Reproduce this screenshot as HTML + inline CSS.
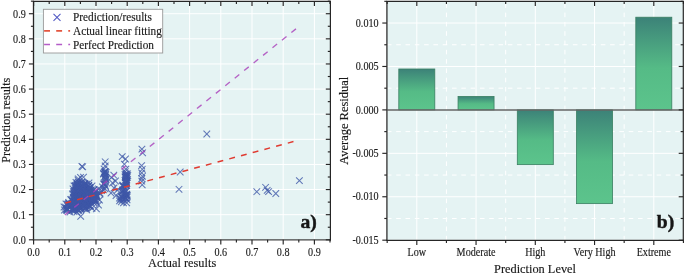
<!DOCTYPE html>
<html><head><meta charset="utf-8"><style>html,body{margin:0;padding:0;background:#fff;overflow:hidden}svg{display:block;will-change:transform}</style></head>
<body><svg width="685" height="274" viewBox="0 0 685 274" font-family="Liberation Serif, serif">
<rect width="685" height="274" fill="#fff"/>
<rect x="33.5" y="1.4" width="296.9" height="238.4" fill="#e5f3f3"/>
<line x1="64.80" y1="1.40" x2="64.80" y2="239.80" stroke="#fff" stroke-width="1" />
<line x1="33.50" y1="214.68" x2="330.40" y2="214.68" stroke="#fff" stroke-width="1" />
<line x1="96.00" y1="1.40" x2="96.00" y2="239.80" stroke="#fff" stroke-width="1" />
<line x1="33.50" y1="189.56" x2="330.40" y2="189.56" stroke="#fff" stroke-width="1" />
<line x1="127.20" y1="1.40" x2="127.20" y2="239.80" stroke="#fff" stroke-width="1" />
<line x1="33.50" y1="164.44" x2="330.40" y2="164.44" stroke="#fff" stroke-width="1" />
<line x1="158.40" y1="1.40" x2="158.40" y2="239.80" stroke="#fff" stroke-width="1" />
<line x1="33.50" y1="139.32" x2="330.40" y2="139.32" stroke="#fff" stroke-width="1" />
<line x1="189.60" y1="1.40" x2="189.60" y2="239.80" stroke="#fff" stroke-width="1" />
<line x1="33.50" y1="114.20" x2="330.40" y2="114.20" stroke="#fff" stroke-width="1" />
<line x1="220.80" y1="1.40" x2="220.80" y2="239.80" stroke="#fff" stroke-width="1" />
<line x1="33.50" y1="89.08" x2="330.40" y2="89.08" stroke="#fff" stroke-width="1" />
<line x1="252.00" y1="1.40" x2="252.00" y2="239.80" stroke="#fff" stroke-width="1" />
<line x1="33.50" y1="63.96" x2="330.40" y2="63.96" stroke="#fff" stroke-width="1" />
<line x1="283.20" y1="1.40" x2="283.20" y2="239.80" stroke="#fff" stroke-width="1" />
<line x1="33.50" y1="38.84" x2="330.40" y2="38.84" stroke="#fff" stroke-width="1" />
<line x1="314.40" y1="1.40" x2="314.40" y2="239.80" stroke="#fff" stroke-width="1" />
<line x1="33.50" y1="13.72" x2="330.40" y2="13.72" stroke="#fff" stroke-width="1" />
<g stroke="#3f58a8" stroke-opacity="0.8" stroke-width="1.05" fill="none"><path d="M296.10,177.30L302.70,183.90M296.10,183.90L302.70,177.30"/><path d="M253.50,188.40L260.10,195.00M253.50,195.00L260.10,188.40"/><path d="M262.30,184.00L268.90,190.60M262.30,190.60L268.90,184.00"/><path d="M263.90,187.00L270.50,193.60M263.90,193.60L270.50,187.00"/><path d="M265.30,188.30L271.90,194.90M265.30,194.90L271.90,188.30"/><path d="M272.50,190.20L279.10,196.80M272.50,196.80L279.10,190.20"/><path d="M203.50,130.70L210.10,137.30M203.50,137.30L210.10,130.70"/><path d="M176.90,168.70L183.50,175.30M176.90,175.30L183.50,168.70"/><path d="M175.70,186.00L182.30,192.60M175.70,192.60L182.30,186.00"/><path d="M138.60,145.80L145.20,152.40M138.60,152.40L145.20,145.80"/><path d="M139.30,149.50L145.90,156.10M139.30,156.10L145.90,149.50"/><path d="M138.30,162.30L144.90,168.90M138.30,168.90L144.90,162.30"/><path d="M139.00,166.00L145.60,172.60M139.00,172.60L145.60,166.00"/><path d="M138.40,169.60L145.00,176.20M138.40,176.20L145.00,169.60"/><path d="M139.10,173.00L145.70,179.60M139.10,179.60L145.70,173.00"/><path d="M138.50,175.30L145.10,181.90M138.50,181.90L145.10,175.30"/><path d="M138.50,177.90L145.10,184.50M138.50,184.50L145.10,177.90"/><path d="M138.90,181.50L145.50,188.10M138.90,188.10L145.50,181.50"/><path d="M78.60,163.10L85.20,169.70M78.60,169.70L85.20,163.10"/><path d="M79.40,163.50L86.00,170.10M79.40,170.10L86.00,163.50"/><path d="M77.40,213.10L84.00,219.70M77.40,219.70L84.00,213.10"/><path d="M118.90,153.30L125.50,159.90M118.90,159.90L125.50,153.30"/><path d="M122.20,155.70L128.80,162.30M122.20,162.30L128.80,155.70"/><path d="M121.10,160.90L127.70,167.50M121.10,167.50L127.70,160.90"/><path d="M101.90,158.50L108.50,165.10M101.90,165.10L108.50,158.50"/><path d="M101.90,162.70L108.50,169.30M101.90,169.30L108.50,162.70"/><path d="M81.95,199.82L88.55,206.42M81.95,206.42L88.55,199.82"/><path d="M92.10,196.99L98.70,203.59M92.10,203.59L98.70,196.99"/><path d="M77.07,184.72L83.67,191.32M77.07,191.32L83.67,184.72"/><path d="M79.44,194.71L86.04,201.31M79.44,201.31L86.04,194.71"/><path d="M71.06,205.15L77.66,211.75M71.06,211.75L77.66,205.15"/><path d="M81.77,181.06L88.37,187.66M81.77,187.66L88.37,181.06"/><path d="M62.26,203.78L68.86,210.38M62.26,210.38L68.86,203.78"/><path d="M71.37,206.53L77.97,213.13M71.37,213.13L77.97,206.53"/><path d="M79.29,197.87L85.89,204.47M79.29,204.47L85.89,197.87"/><path d="M68.69,205.90L75.29,212.50M68.69,212.50L75.29,205.90"/><path d="M90.53,186.31L97.13,192.91M90.53,192.91L97.13,186.31"/><path d="M73.65,182.26L80.25,188.86M73.65,188.86L80.25,182.26"/><path d="M71.75,195.59L78.35,202.19M71.75,202.19L78.35,195.59"/><path d="M72.91,186.65L79.51,193.25M72.91,193.25L79.51,186.65"/><path d="M88.15,191.86L94.75,198.46M88.15,198.46L94.75,191.86"/><path d="M72.21,191.88L78.81,198.48M72.21,198.48L78.81,191.88"/><path d="M85.97,202.97L92.57,209.57M85.97,209.57L92.57,202.97"/><path d="M73.81,194.84L80.41,201.44M73.81,201.44L80.41,194.84"/><path d="M67.94,206.33L74.54,212.93M67.94,212.93L74.54,206.33"/><path d="M68.43,200.25L75.03,206.85M68.43,206.85L75.03,200.25"/><path d="M73.12,188.02L79.72,194.62M73.12,194.62L79.72,188.02"/><path d="M78.83,200.86L85.43,207.46M78.83,207.46L85.43,200.86"/><path d="M65.63,200.03L72.23,206.63M65.63,206.63L72.23,200.03"/><path d="M63.36,206.05L69.96,212.65M63.36,212.65L69.96,206.05"/><path d="M81.56,205.20L88.16,211.80M81.56,211.80L88.16,205.20"/><path d="M72.98,205.39L79.58,211.99M72.98,211.99L79.58,205.39"/><path d="M79.48,186.73L86.08,193.33M79.48,193.33L86.08,186.73"/><path d="M72.24,182.61L78.84,189.21M72.24,189.21L78.84,182.61"/><path d="M93.48,193.47L100.08,200.07M93.48,200.07L100.08,193.47"/><path d="M75.07,184.44L81.67,191.04M75.07,191.04L81.67,184.44"/><path d="M81.03,202.40L87.63,209.00M81.03,209.00L87.63,202.40"/><path d="M76.64,190.06L83.24,196.66M76.64,196.66L83.24,190.06"/><path d="M63.97,205.14L70.57,211.74M63.97,211.74L70.57,205.14"/><path d="M82.18,201.23L88.78,207.83M82.18,207.83L88.78,201.23"/><path d="M66.93,202.96L73.53,209.56M66.93,209.56L73.53,202.96"/><path d="M71.55,191.02L78.15,197.62M71.55,197.62L78.15,191.02"/><path d="M93.14,191.03L99.74,197.63M93.14,197.63L99.74,191.03"/><path d="M77.67,199.45L84.27,206.05M77.67,206.05L84.27,199.45"/><path d="M77.39,186.08L83.99,192.68M77.39,192.68L83.99,186.08"/><path d="M75.00,181.67L81.60,188.27M75.00,188.27L81.60,181.67"/><path d="M92.63,196.32L99.23,202.92M92.63,202.92L99.23,196.32"/><path d="M78.03,187.52L84.63,194.12M78.03,194.12L84.63,187.52"/><path d="M73.65,201.17L80.25,207.77M73.65,207.77L80.25,201.17"/><path d="M86.76,198.39L93.36,204.99M86.76,204.99L93.36,198.39"/><path d="M83.25,200.37L89.85,206.97M83.25,206.97L89.85,200.37"/><path d="M73.72,198.69L80.32,205.29M73.72,205.29L80.32,198.69"/><path d="M71.10,192.01L77.70,198.61M71.10,198.61L77.70,192.01"/><path d="M86.60,198.27L93.20,204.87M86.60,204.87L93.20,198.27"/><path d="M71.52,206.04L78.12,212.64M71.52,212.64L78.12,206.04"/><path d="M82.80,194.91L89.40,201.51M82.80,201.51L89.40,194.91"/><path d="M70.15,197.69L76.75,204.29M70.15,204.29L76.75,197.69"/><path d="M76.88,202.11L83.48,208.71M76.88,208.71L83.48,202.11"/><path d="M82.72,201.53L89.32,208.13M82.72,208.13L89.32,201.53"/><path d="M73.23,196.84L79.83,203.44M73.23,203.44L79.83,196.84"/><path d="M85.59,202.46L92.19,209.06M85.59,209.06L92.19,202.46"/><path d="M73.30,202.91L79.90,209.51M73.30,209.51L79.90,202.91"/><path d="M89.78,198.19L96.38,204.79M89.78,204.79L96.38,198.19"/><path d="M78.63,193.34L85.23,199.94M78.63,199.94L85.23,193.34"/><path d="M67.47,202.72L74.07,209.32M67.47,209.32L74.07,202.72"/><path d="M91.91,191.76L98.51,198.36M91.91,198.36L98.51,191.76"/><path d="M84.12,199.15L90.72,205.75M84.12,205.75L90.72,199.15"/><path d="M85.35,182.44L91.95,189.04M85.35,189.04L91.95,182.44"/><path d="M86.94,194.92L93.54,201.52M86.94,201.52L93.54,194.92"/><path d="M83.30,190.03L89.90,196.63M83.30,196.63L89.90,190.03"/><path d="M81.97,200.83L88.57,207.43M81.97,207.43L88.57,200.83"/><path d="M82.39,199.17L88.99,205.77M82.39,205.77L88.99,199.17"/><path d="M76.18,197.03L82.78,203.63M76.18,203.63L82.78,197.03"/><path d="M69.14,198.12L75.74,204.72M69.14,204.72L75.74,198.12"/><path d="M77.15,184.10L83.75,190.70M77.15,190.70L83.75,184.10"/><path d="M72.26,182.74L78.86,189.34M72.26,189.34L78.86,182.74"/><path d="M76.95,188.80L83.55,195.40M76.95,195.40L83.55,188.80"/><path d="M81.59,195.20L88.19,201.80M81.59,201.80L88.19,195.20"/><path d="M69.74,204.75L76.34,211.35M69.74,211.35L76.34,204.75"/><path d="M71.03,189.71L77.63,196.31M71.03,196.31L77.63,189.71"/><path d="M65.85,202.56L72.45,209.16M65.85,209.16L72.45,202.56"/><path d="M81.65,180.09L88.25,186.69M81.65,186.69L88.25,180.09"/><path d="M79.48,187.55L86.08,194.15M79.48,194.15L86.08,187.55"/><path d="M88.15,189.98L94.75,196.58M88.15,196.58L94.75,189.98"/><path d="M87.97,196.79L94.57,203.39M87.97,203.39L94.57,196.79"/><path d="M73.91,181.53L80.51,188.13M73.91,188.13L80.51,181.53"/><path d="M81.09,194.40L87.69,201.00M81.09,201.00L87.69,194.40"/><path d="M81.49,187.91L88.09,194.51M81.49,194.51L88.09,187.91"/><path d="M81.70,181.49L88.30,188.09M81.70,188.09L88.30,181.49"/><path d="M82.15,204.38L88.75,210.98M82.15,210.98L88.75,204.38"/><path d="M74.11,190.37L80.71,196.97M74.11,196.97L80.71,190.37"/><path d="M81.09,185.12L87.69,191.72M81.09,191.72L87.69,185.12"/><path d="M93.30,192.34L99.90,198.94M93.30,198.94L99.90,192.34"/><path d="M75.37,186.93L81.97,193.53M75.37,193.53L81.97,186.93"/><path d="M93.40,192.20L100.00,198.80M93.40,198.80L100.00,192.20"/><path d="M71.28,191.75L77.88,198.35M71.28,198.35L77.88,191.75"/><path d="M76.26,186.14L82.86,192.74M76.26,192.74L82.86,186.14"/><path d="M86.98,202.42L93.58,209.02M86.98,209.02L93.58,202.42"/><path d="M70.88,205.73L77.48,212.33M70.88,212.33L77.48,205.73"/><path d="M86.99,184.69L93.59,191.29M86.99,191.29L93.59,184.69"/><path d="M81.47,191.68L88.07,198.28M81.47,198.28L88.07,191.68"/><path d="M82.64,195.62L89.24,202.22M82.64,202.22L89.24,195.62"/><path d="M86.30,186.37L92.90,192.97M86.30,192.97L92.90,186.37"/><path d="M79.11,187.45L85.71,194.05M79.11,194.05L85.71,187.45"/><path d="M71.61,193.36L78.21,199.96M71.61,199.96L78.21,193.36"/><path d="M76.92,188.21L83.52,194.81M76.92,194.81L83.52,188.21"/><path d="M85.82,195.22L92.42,201.82M85.82,201.82L92.42,195.22"/><path d="M76.64,205.16L83.24,211.76M76.64,211.76L83.24,205.16"/><path d="M90.35,193.84L96.95,200.44M90.35,200.44L96.95,193.84"/><path d="M75.76,194.76L82.36,201.36M75.76,201.36L82.36,194.76"/><path d="M84.65,196.48L91.25,203.08M84.65,203.08L91.25,196.48"/><path d="M77.48,205.01L84.08,211.61M77.48,211.61L84.08,205.01"/><path d="M74.42,189.15L81.02,195.75M74.42,195.75L81.02,189.15"/><path d="M71.60,202.52L78.20,209.12M71.60,209.12L78.20,202.52"/><path d="M64.29,202.71L70.89,209.31M64.29,209.31L70.89,202.71"/><path d="M84.22,190.40L90.82,197.00M84.22,197.00L90.82,190.40"/><path d="M71.28,201.01L77.88,207.61M71.28,207.61L77.88,201.01"/><path d="M77.37,193.95L83.97,200.55M77.37,200.55L83.97,193.95"/><path d="M77.98,187.29L84.58,193.89M77.98,193.89L84.58,187.29"/><path d="M69.49,202.20L76.09,208.80M69.49,208.80L76.09,202.20"/><path d="M87.30,197.44L93.90,204.04M87.30,204.04L93.90,197.44"/><path d="M71.47,205.20L78.07,211.80M71.47,211.80L78.07,205.20"/><path d="M75.32,182.12L81.92,188.72M75.32,188.72L81.92,182.12"/><path d="M80.44,199.84L87.04,206.44M80.44,206.44L87.04,199.84"/><path d="M75.88,186.79L82.48,193.39M75.88,193.39L82.48,186.79"/><path d="M81.23,192.13L87.83,198.73M81.23,198.73L87.83,192.13"/><path d="M91.95,188.61L98.55,195.21M91.95,195.21L98.55,188.61"/><path d="M78.24,204.97L84.84,211.57M78.24,211.57L84.84,204.97"/><path d="M79.79,196.14L86.39,202.74M79.79,202.74L86.39,196.14"/><path d="M70.54,194.03L77.14,200.63M70.54,200.63L77.14,194.03"/><path d="M70.26,200.09L76.86,206.69M70.26,206.69L76.86,200.09"/><path d="M78.59,181.28L85.19,187.88M78.59,187.88L85.19,181.28"/><path d="M85.56,182.67L92.16,189.27M85.56,189.27L92.16,182.67"/><path d="M84.81,197.18L91.41,203.78M84.81,203.78L91.41,197.18"/><path d="M81.03,184.48L87.63,191.08M81.03,191.08L87.63,184.48"/><path d="M90.00,191.85L96.60,198.45M90.00,198.45L96.60,191.85"/><path d="M72.45,201.49L79.05,208.09M72.45,208.09L79.05,201.49"/><path d="M92.38,197.97L98.98,204.57M92.38,204.57L98.98,197.97"/><path d="M82.01,188.01L88.61,194.61M82.01,194.61L88.61,188.01"/><path d="M81.66,187.83L88.26,194.43M81.66,194.43L88.26,187.83"/><path d="M74.43,181.36L81.03,187.96M74.43,187.96L81.03,181.36"/><path d="M88.55,196.96L95.15,203.56M88.55,203.56L95.15,196.96"/><path d="M87.70,190.42L94.30,197.02M87.70,197.02L94.30,190.42"/><path d="M89.19,192.98L95.79,199.58M89.19,199.58L95.79,192.98"/><path d="M80.99,194.68L87.59,201.28M80.99,201.28L87.59,194.68"/><path d="M85.66,189.26L92.26,195.86M85.66,195.86L92.26,189.26"/><path d="M90.39,191.87L96.99,198.47M90.39,198.47L96.99,191.87"/><path d="M77.10,204.34L83.70,210.94M77.10,210.94L83.70,204.34"/><path d="M81.84,190.27L88.44,196.87M81.84,196.87L88.44,190.27"/><path d="M76.96,180.24L83.56,186.84M76.96,186.84L83.56,180.24"/><path d="M74.08,188.96L80.68,195.56M74.08,195.56L80.68,188.96"/><path d="M63.22,205.40L69.82,212.00M63.22,212.00L69.82,205.40"/><path d="M73.90,205.81L80.50,212.41M73.90,212.41L80.50,205.81"/><path d="M84.00,197.75L90.60,204.35M84.00,204.35L90.60,197.75"/><path d="M77.15,206.03L83.75,212.63M77.15,212.63L83.75,206.03"/><path d="M71.43,197.77L78.03,204.37M71.43,204.37L78.03,197.77"/><path d="M85.32,182.18L91.92,188.78M85.32,188.78L91.92,182.18"/><path d="M74.91,206.89L81.51,213.49M74.91,213.49L81.51,206.89"/><path d="M73.75,186.71L80.35,193.31M73.75,193.31L80.35,186.71"/><path d="M77.04,185.84L83.64,192.44M77.04,192.44L83.64,185.84"/><path d="M85.42,199.10L92.02,205.70M85.42,205.70L92.02,199.10"/><path d="M82.67,190.33L89.27,196.93M82.67,196.93L89.27,190.33"/><path d="M64.13,200.97L70.73,207.57M64.13,207.57L70.73,200.97"/><path d="M75.20,178.57L81.80,185.17M75.20,185.17L81.80,178.57"/><path d="M78.65,187.88L85.25,194.48M78.65,194.48L85.25,187.88"/><path d="M90.69,192.18L97.29,198.78M90.69,198.78L97.29,192.18"/><path d="M74.80,179.03L81.40,185.63M74.80,185.63L81.40,179.03"/><path d="M70.30,189.63L76.90,196.23M70.30,196.23L76.90,189.63"/><path d="M63.39,206.83L69.99,213.43M63.39,213.43L69.99,206.83"/><path d="M74.95,193.40L81.55,200.00M74.95,200.00L81.55,193.40"/><path d="M91.41,195.45L98.01,202.05M91.41,202.05L98.01,195.45"/><path d="M77.62,194.63L84.22,201.23M77.62,201.23L84.22,194.63"/><path d="M74.14,196.27L80.74,202.87M74.14,202.87L80.74,196.27"/><path d="M71.95,190.90L78.55,197.50M71.95,197.50L78.55,190.90"/><path d="M64.98,200.76L71.58,207.36M64.98,207.36L71.58,200.76"/><path d="M88.18,186.74L94.78,193.34M88.18,193.34L94.78,186.74"/><path d="M75.79,194.80L82.39,201.40M75.79,201.40L82.39,194.80"/><path d="M74.05,180.21L80.65,186.81M74.05,186.81L80.65,180.21"/><path d="M75.53,186.77L82.13,193.37M75.53,193.37L82.13,186.77"/><path d="M86.05,194.16L92.65,200.76M86.05,200.76L92.65,194.16"/><path d="M90.61,197.15L97.21,203.75M90.61,203.75L97.21,197.15"/><path d="M86.28,194.73L92.88,201.33M86.28,201.33L92.88,194.73"/><path d="M76.22,202.11L82.82,208.71M76.22,208.71L82.82,202.11"/><path d="M85.28,198.59L91.88,205.19M85.28,205.19L91.88,198.59"/><path d="M70.69,201.97L77.29,208.57M70.69,208.57L77.29,201.97"/><path d="M74.32,181.17L80.92,187.77M74.32,187.77L80.92,181.17"/><path d="M70.52,197.81L77.12,204.41M70.52,204.41L77.12,197.81"/><path d="M86.41,194.20L93.01,200.80M86.41,200.80L93.01,194.20"/><path d="M81.60,184.25L88.20,190.85M81.60,190.85L88.20,184.25"/><path d="M75.80,188.25L82.40,194.85M75.80,194.85L82.40,188.25"/><path d="M80.73,202.42L87.33,209.02M80.73,209.02L87.33,202.42"/><path d="M79.01,182.42L85.61,189.02M79.01,189.02L85.61,182.42"/><path d="M84.69,190.81L91.29,197.41M84.69,197.41L91.29,190.81"/><path d="M91.21,191.26L97.81,197.86M91.21,197.86L97.81,191.26"/><path d="M75.96,190.66L82.56,197.26M75.96,197.26L82.56,190.66"/><path d="M81.09,180.36L87.69,186.96M81.09,186.96L87.69,180.36"/><path d="M88.01,189.99L94.61,196.59M88.01,196.59L94.61,189.99"/><path d="M63.86,207.03L70.46,213.63M63.86,213.63L70.46,207.03"/><path d="M77.48,204.09L84.08,210.69M77.48,210.69L84.08,204.09"/><path d="M74.65,183.78L81.25,190.38M74.65,190.38L81.25,183.78"/><path d="M80.03,188.09L86.63,194.69M80.03,194.69L86.63,188.09"/><path d="M86.01,184.57L92.61,191.17M86.01,191.17L92.61,184.57"/><path d="M73.35,184.77L79.95,191.37M73.35,191.37L79.95,184.77"/><path d="M89.14,196.05L95.74,202.65M89.14,202.65L95.74,196.05"/><path d="M74.91,181.56L81.51,188.16M74.91,188.16L81.51,181.56"/><path d="M88.56,192.15L95.16,198.75M88.56,198.75L95.16,192.15"/><path d="M65.33,199.09L71.93,205.69M65.33,205.69L71.93,199.09"/><path d="M87.47,187.08L94.07,193.68M87.47,193.68L94.07,187.08"/><path d="M83.85,203.53L90.45,210.13M83.85,210.13L90.45,203.53"/><path d="M81.95,201.61L88.55,208.21M81.95,208.21L88.55,201.61"/><path d="M78.42,195.09L85.02,201.69M78.42,201.69L85.02,195.09"/><path d="M72.09,188.88L78.69,195.48M72.09,195.48L78.69,188.88"/><path d="M77.29,198.65L83.89,205.25M77.29,205.25L83.89,198.65"/><path d="M74.85,207.16L81.45,213.76M74.85,213.76L81.45,207.16"/><path d="M84.16,197.64L90.76,204.24M84.16,204.24L90.76,197.64"/><path d="M79.21,201.56L85.81,208.16M79.21,208.16L85.81,201.56"/><path d="M73.70,195.30L80.30,201.90M73.70,201.90L80.30,195.30"/><path d="M83.74,193.13L90.34,199.73M83.74,199.73L90.34,193.13"/><path d="M80.60,200.37L87.20,206.97M80.60,206.97L87.20,200.37"/><path d="M84.85,186.56L91.45,193.16M84.85,193.16L91.45,186.56"/><path d="M86.08,197.63L92.68,204.23M86.08,204.23L92.68,197.63"/><path d="M84.00,202.77L90.60,209.37M84.00,209.37L90.60,202.77"/><path d="M85.61,195.83L92.21,202.43M85.61,202.43L92.21,195.83"/><path d="M93.10,193.79L99.70,200.39M93.10,200.39L99.70,193.79"/><path d="M74.57,182.63L81.17,189.23M74.57,189.23L81.17,182.63"/><path d="M82.90,204.64L89.50,211.24M82.90,211.24L89.50,204.64"/><path d="M91.05,195.91L97.65,202.51M91.05,202.51L97.65,195.91"/><path d="M74.46,180.52L81.06,187.12M74.46,187.12L81.06,180.52"/><path d="M84.03,194.08L90.63,200.68M84.03,200.68L90.63,194.08"/><path d="M84.87,188.61L91.47,195.21M84.87,195.21L91.47,188.61"/><path d="M71.89,185.36L78.49,191.96M71.89,191.96L78.49,185.36"/><path d="M81.92,204.57L88.52,211.17M81.92,211.17L88.52,204.57"/><path d="M67.51,196.50L74.11,203.10M67.51,203.10L74.11,196.50"/><path d="M86.50,184.05L93.10,190.65M86.50,190.65L93.10,184.05"/><path d="M85.28,189.91L91.88,196.51M85.28,196.51L91.88,189.91"/><path d="M75.68,193.33L82.28,199.93M75.68,199.93L82.28,193.33"/><path d="M90.88,186.42L97.48,193.02M90.88,193.02L97.48,186.42"/><path d="M71.10,195.66L77.70,202.26M71.10,202.26L77.70,195.66"/><path d="M80.03,195.61L86.63,202.21M80.03,202.21L86.63,195.61"/><path d="M81.05,196.91L87.65,203.51M81.05,203.51L87.65,196.91"/><path d="M84.08,199.43L90.68,206.03M84.08,206.03L90.68,199.43"/><path d="M72.29,203.14L78.89,209.74M72.29,209.74L78.89,203.14"/><path d="M69.46,198.45L76.06,205.05M69.46,205.05L76.06,198.45"/><path d="M88.85,191.74L95.45,198.34M88.85,198.34L95.45,191.74"/><path d="M65.53,200.32L72.13,206.92M65.53,206.92L72.13,200.32"/><path d="M85.54,202.10L92.14,208.70M85.54,208.70L92.14,202.10"/><path d="M87.68,198.95L94.28,205.55M87.68,205.55L94.28,198.95"/><path d="M74.07,191.19L80.67,197.79M74.07,197.79L80.67,191.19"/><path d="M83.77,199.86L90.37,206.46M83.77,206.46L90.37,199.86"/><path d="M79.43,188.64L86.03,195.24M79.43,195.24L86.03,188.64"/><path d="M74.07,198.05L80.67,204.65M74.07,204.65L80.67,198.05"/><path d="M86.29,199.20L92.89,205.80M86.29,205.80L92.89,199.20"/><path d="M77.38,188.00L83.98,194.60M77.38,194.60L83.98,188.00"/><path d="M74.31,186.06L80.91,192.66M74.31,192.66L80.91,186.06"/><path d="M78.01,198.45L84.61,205.05M78.01,205.05L84.61,198.45"/><path d="M87.21,194.76L93.81,201.36M87.21,201.36L93.81,194.76"/><path d="M71.58,187.48L78.18,194.08M71.58,194.08L78.18,187.48"/><path d="M89.08,193.04L95.68,199.64M89.08,199.64L95.68,193.04"/><path d="M69.74,197.52L76.34,204.12M69.74,204.12L76.34,197.52"/><path d="M93.41,193.71L100.01,200.31M93.41,200.31L100.01,193.71"/><path d="M74.45,205.68L81.05,212.28M74.45,212.28L81.05,205.68"/><path d="M86.48,188.21L93.08,194.81M86.48,194.81L93.08,188.21"/><path d="M76.73,188.88L83.33,195.48M76.73,195.48L83.33,188.88"/><path d="M78.58,178.82L85.18,185.42M78.58,185.42L85.18,178.82"/><path d="M69.13,206.92L75.73,213.52M69.13,213.52L75.73,206.92"/><path d="M76.23,191.59L82.83,198.19M76.23,198.19L82.83,191.59"/><path d="M92.47,198.16L99.07,204.76M92.47,204.76L99.07,198.16"/><path d="M78.30,178.82L84.90,185.42M78.30,185.42L84.90,178.82"/><path d="M74.65,200.94L81.25,207.54M74.65,207.54L81.25,200.94"/><path d="M75.98,195.30L82.58,201.90M75.98,201.90L82.58,195.30"/><path d="M90.80,196.88L97.40,203.48M90.80,203.48L97.40,196.88"/><path d="M75.30,203.86L81.90,210.46M75.30,210.46L81.90,203.86"/><path d="M66.90,201.02L73.50,207.62M66.90,207.62L73.50,201.02"/><path d="M75.58,206.85L82.18,213.45M75.58,213.45L82.18,206.85"/><path d="M75.56,185.46L82.16,192.06M75.56,192.06L82.16,185.46"/><path d="M77.09,185.94L83.69,192.54M77.09,192.54L83.69,185.94"/><path d="M83.33,180.96L89.93,187.56M83.33,187.56L89.93,180.96"/><path d="M81.19,181.36L87.79,187.96M81.19,187.96L87.79,181.36"/><path d="M69.70,205.27L76.30,211.87M69.70,211.87L76.30,205.27"/><path d="M70.65,200.19L77.25,206.79M70.65,206.79L77.25,200.19"/><path d="M74.02,200.84L80.62,207.44M74.02,207.44L80.62,200.84"/><path d="M82.60,188.64L89.20,195.24M82.60,195.24L89.20,188.64"/><path d="M73.89,191.77L80.49,198.37M73.89,198.37L80.49,191.77"/><path d="M69.84,194.54L76.44,201.14M69.84,201.14L76.44,194.54"/><path d="M70.54,193.83L77.14,200.43M70.54,200.43L77.14,193.83"/><path d="M77.45,198.73L84.05,205.33M77.45,205.33L84.05,198.73"/><path d="M75.48,192.58L82.08,199.18M75.48,199.18L82.08,192.58"/><path d="M81.55,201.38L88.15,207.98M81.55,207.98L88.15,201.38"/><path d="M71.64,190.93L78.24,197.53M71.64,197.53L78.24,190.93"/><path d="M73.94,193.37L80.54,199.97M73.94,199.97L80.54,193.37"/><path d="M76.42,199.65L83.02,206.25M76.42,206.25L83.02,199.65"/><path d="M78.96,189.06L85.56,195.66M78.96,195.66L85.56,189.06"/><path d="M79.69,202.50L86.29,209.10M79.69,209.10L86.29,202.50"/><path d="M77.87,194.46L84.47,201.06M77.87,201.06L84.47,194.46"/><path d="M73.04,181.59L79.64,188.19M73.04,188.19L79.64,181.59"/><path d="M70.94,201.10L77.54,207.70M70.94,207.70L77.54,201.10"/><path d="M85.69,185.19L92.29,191.79M85.69,191.79L92.29,185.19"/><path d="M88.48,196.28L95.08,202.88M88.48,202.88L95.08,196.28"/><path d="M74.52,196.38L81.12,202.98M74.52,202.98L81.12,196.38"/><path d="M89.99,190.58L96.59,197.18M89.99,197.18L96.59,190.58"/><path d="M85.65,194.32L92.25,200.92M85.65,200.92L92.25,194.32"/><path d="M88.32,192.28L94.92,198.88M88.32,198.88L94.92,192.28"/><path d="M80.87,180.78L87.47,187.38M80.87,187.38L87.47,180.78"/><path d="M85.06,195.85L91.66,202.45M85.06,202.45L91.66,195.85"/><path d="M81.60,183.96L88.20,190.56M81.60,190.56L88.20,183.96"/><path d="M76.79,196.99L83.39,203.59M76.79,203.59L83.39,196.99"/><path d="M90.48,199.19L97.08,205.79M90.48,205.79L97.08,199.19"/><path d="M86.12,185.09L92.72,191.69M86.12,191.69L92.72,185.09"/><path d="M86.24,192.93L92.84,199.53M86.24,199.53L92.84,192.93"/><path d="M90.79,191.40L97.39,198.00M90.79,198.00L97.39,191.40"/><path d="M70.55,206.08L77.15,212.68M70.55,212.68L77.15,206.08"/><path d="M75.68,196.16L82.28,202.76M75.68,202.76L82.28,196.16"/><path d="M82.82,182.53L89.42,189.13M82.82,189.13L89.42,182.53"/><path d="M83.98,190.84L90.58,197.44M83.98,197.44L90.58,190.84"/><path d="M80.37,205.02L86.97,211.62M80.37,211.62L86.97,205.02"/><path d="M77.85,193.55L84.45,200.15M77.85,200.15L84.45,193.55"/><path d="M90.74,194.14L97.34,200.74M90.74,200.74L97.34,194.14"/><path d="M83.20,190.00L89.80,196.60M83.20,196.60L89.80,190.00"/><path d="M87.06,202.70L93.66,209.30M87.06,209.30L93.66,202.70"/><path d="M70.42,188.11L77.02,194.71M70.42,194.71L77.02,188.11"/><path d="M82.15,196.74L88.75,203.34M82.15,203.34L88.75,196.74"/><path d="M86.61,187.46L93.21,194.06M86.61,194.06L93.21,187.46"/><path d="M88.97,194.97L95.57,201.57M88.97,201.57L95.57,194.97"/><path d="M63.78,206.85L70.38,213.45M63.78,213.45L70.38,206.85"/><path d="M74.38,196.61L80.98,203.21M74.38,203.21L80.98,196.61"/><path d="M85.15,185.15L91.75,191.75M85.15,191.75L91.75,185.15"/><path d="M75.14,187.24L81.74,193.84M75.14,193.84L81.74,187.24"/><path d="M84.92,189.72L91.52,196.32M84.92,196.32L91.52,189.72"/><path d="M71.76,182.69L78.36,189.29M71.76,189.29L78.36,182.69"/><path d="M90.61,192.64L97.21,199.24M90.61,199.24L97.21,192.64"/><path d="M80.11,186.04L86.71,192.64M80.11,192.64L86.71,186.04"/><path d="M76.98,180.33L83.58,186.93M76.98,186.93L83.58,180.33"/><path d="M79.24,179.75L85.84,186.35M79.24,186.35L85.84,179.75"/><path d="M93.50,193.75L100.10,200.35M93.50,200.35L100.10,193.75"/><path d="M76.07,185.50L82.67,192.10M76.07,192.10L82.67,185.50"/><path d="M75.76,183.58L82.36,190.18M75.76,190.18L82.36,183.58"/><path d="M77.20,174.20L83.80,180.80M77.20,180.80L83.80,174.20"/><path d="M80.20,173.90L86.80,180.50M80.20,180.50L86.80,173.90"/><path d="M75.00,175.50L81.60,182.10M75.00,182.10L81.60,175.50"/><path d="M70.70,182.70L77.30,189.30M70.70,189.30L77.30,182.70"/><path d="M72.70,179.20L79.30,185.80M72.70,185.80L79.30,179.20"/><path d="M74.70,176.70L81.30,183.30M74.70,183.30L81.30,176.70"/><path d="M69.70,185.70L76.30,192.30M69.70,192.30L76.30,185.70"/><path d="M69.20,190.70L75.80,197.30M69.20,197.30L75.80,190.70"/><path d="M67.70,196.20L74.30,202.80M67.70,202.80L74.30,196.20"/><path d="M62.70,200.70L69.30,207.30M62.70,207.30L69.30,200.70"/><path d="M60.70,203.70L67.30,210.30M60.70,210.30L67.30,203.70"/><path d="M61.20,206.70L67.80,213.30M61.20,213.30L67.80,206.70"/><path d="M66.70,208.70L73.30,215.30M66.70,215.30L73.30,208.70"/><path d="M70.70,208.20L77.30,214.80M70.70,214.80L77.30,208.20"/><path d="M73.70,208.70L80.30,215.30M73.70,215.30L80.30,208.70"/><path d="M88.70,205.00L95.30,211.60M88.70,211.60L95.30,205.00"/><path d="M93.10,205.50L99.70,212.10M93.10,212.10L99.70,205.50"/><path d="M83.30,206.60L89.90,213.20M83.30,213.20L89.90,206.60"/><path d="M95.20,201.70L101.80,208.30M95.20,208.30L101.80,201.70"/><path d="M96.20,196.70L102.80,203.30M96.20,203.30L102.80,196.70"/><path d="M96.70,190.70L103.30,197.30M96.70,197.30L103.30,190.70"/><path d="M95.20,185.70L101.80,192.30M95.20,192.30L101.80,185.70"/><path d="M88.70,182.70L95.30,189.30M88.70,189.30L95.30,182.70"/><path d="M85.70,179.70L92.30,186.30M85.70,186.30L92.30,179.70"/><path d="M100.79,165.58L107.39,172.18M100.79,172.18L107.39,165.58"/><path d="M101.80,168.33L108.40,174.93M101.80,174.93L108.40,168.33"/><path d="M102.29,171.01L108.89,177.61M102.29,177.61L108.89,171.01"/><path d="M101.68,173.23L108.28,179.83M101.68,179.83L108.28,173.23"/><path d="M102.01,176.14L108.61,182.74M102.01,182.74L108.61,176.14"/><path d="M102.03,178.17L108.63,184.77M102.03,184.77L108.63,178.17"/><path d="M100.85,180.77L107.45,187.37M100.85,187.37L107.45,180.77"/><path d="M102.29,183.20L108.89,189.80M102.29,189.80L108.89,183.20"/><path d="M101.72,185.46L108.32,192.06M101.72,192.06L108.32,185.46"/><path d="M102.95,176.11L109.55,182.71M102.95,182.71L109.55,176.11"/><path d="M101.57,169.38L108.17,175.98M101.57,175.98L108.17,169.38"/><path d="M100.28,170.75L106.88,177.35M100.28,177.35L106.88,170.75"/><path d="M101.01,168.75L107.61,175.35M101.01,175.35L107.61,168.75"/><path d="M100.13,186.65L106.73,193.25M100.13,193.25L106.73,186.65"/><path d="M101.86,168.49L108.46,175.09M101.86,175.09L108.46,168.49"/><path d="M101.91,175.63L108.51,182.23M101.91,182.23L108.51,175.63"/><path d="M100.20,169.96L106.80,176.56M100.20,176.56L106.80,169.96"/><path d="M100.29,180.67L106.89,187.27M100.29,187.27L106.89,180.67"/><path d="M102.44,171.74L109.04,178.34M102.44,178.34L109.04,171.74"/><path d="M102.23,173.83L108.83,180.43M102.23,180.43L108.83,173.83"/><path d="M102.86,169.15L109.46,175.75M102.86,175.75L109.46,169.15"/><path d="M101.97,181.98L108.57,188.58M101.97,188.58L108.57,181.98"/><path d="M100.88,179.48L107.48,186.08M100.88,186.08L107.48,179.48"/><path d="M98.20,187.20L104.80,193.80M98.20,193.80L104.80,187.20"/><path d="M96.70,189.70L103.30,196.30M96.70,196.30L103.30,189.70"/><path d="M99.20,183.70L105.80,190.30M99.20,190.30L105.80,183.70"/><path d="M123.92,174.01L130.52,180.61M123.92,180.61L130.52,174.01"/><path d="M124.26,170.50L130.86,177.10M124.26,177.10L130.86,170.50"/><path d="M121.72,171.37L128.32,177.97M121.72,177.97L128.32,171.37"/><path d="M123.31,172.84L129.91,179.44M123.31,179.44L129.91,172.84"/><path d="M122.70,172.75L129.30,179.35M122.70,179.35L129.30,172.75"/><path d="M123.41,176.84L130.01,183.44M123.41,183.44L130.01,176.84"/><path d="M122.94,178.57L129.54,185.17M122.94,185.17L129.54,178.57"/><path d="M123.00,181.74L129.60,188.34M123.00,188.34L129.60,181.74"/><path d="M122.96,171.01L129.56,177.61M122.96,177.61L129.56,171.01"/><path d="M123.71,172.85L130.31,179.45M123.71,179.45L130.31,172.85"/><path d="M122.06,179.94L128.66,186.54M122.06,186.54L128.66,179.94"/><path d="M122.67,178.14L129.27,184.74M122.67,184.74L129.27,178.14"/><path d="M122.35,174.29L128.95,180.89M122.35,180.89L128.95,174.29"/><path d="M122.74,179.23L129.34,185.83M122.74,185.83L129.34,179.23"/><path d="M121.93,168.41L128.53,175.01M121.93,175.01L128.53,168.41"/><path d="M122.96,179.14L129.56,185.74M122.96,185.74L129.56,179.14"/><path d="M123.00,178.82L129.60,185.42M123.00,185.42L129.60,178.82"/><path d="M123.12,174.80L129.72,181.40M123.12,181.40L129.72,174.80"/><path d="M122.80,173.84L129.40,180.44M122.80,180.44L129.40,173.84"/><path d="M123.39,182.26L129.99,188.86M123.39,188.86L129.99,182.26"/><path d="M123.37,180.19L129.97,186.79M123.37,186.79L129.97,180.19"/><path d="M123.11,176.77L129.71,183.37M123.11,183.37L129.71,176.77"/><path d="M124.50,172.24L131.10,178.84M124.50,178.84L131.10,172.24"/><path d="M122.65,170.35L129.25,176.95M122.65,176.95L129.25,170.35"/><path d="M122.54,165.87L129.14,172.47M122.54,172.47L129.14,165.87"/><path d="M122.42,178.34L129.02,184.94M122.42,184.94L129.02,178.34"/><path d="M122.12,174.26L128.72,180.86M122.12,180.86L128.72,174.26"/><path d="M122.37,178.20L128.97,184.80M122.37,184.80L128.97,178.20"/><path d="M123.27,172.04L129.87,178.64M123.27,178.64L129.87,172.04"/><path d="M121.89,173.26L128.49,179.86M121.89,179.86L128.49,173.26"/><path d="M122.23,177.36L128.83,183.96M122.23,183.96L128.83,177.36"/><path d="M123.58,179.99L130.18,186.59M123.58,186.59L130.18,179.99"/><path d="M119.13,182.55L125.73,189.15M119.13,189.15L125.73,182.55"/><path d="M118.29,193.19L124.89,199.79M118.29,199.79L124.89,193.19"/><path d="M118.87,188.57L125.47,195.17M118.87,195.17L125.47,188.57"/><path d="M120.96,193.74L127.56,200.34M120.96,200.34L127.56,193.74"/><path d="M121.20,189.53L127.80,196.13M121.20,196.13L127.80,189.53"/><path d="M118.36,193.63L124.96,200.23M118.36,200.23L124.96,193.63"/><path d="M123.03,191.05L129.63,197.65M123.03,197.65L129.63,191.05"/><path d="M123.46,190.91L130.06,197.51M123.46,197.51L130.06,190.91"/><path d="M122.71,194.46L129.31,201.06M122.71,201.06L129.31,194.46"/><path d="M122.09,182.00L128.69,188.60M122.09,188.60L128.69,182.00"/><path d="M123.77,196.54L130.37,203.14M123.77,203.14L130.37,196.54"/><path d="M119.47,182.69L126.07,189.29M119.47,189.29L126.07,182.69"/><path d="M120.34,183.20L126.94,189.80M120.34,189.80L126.94,183.20"/><path d="M120.53,183.04L127.13,189.64M120.53,189.64L127.13,183.04"/><path d="M119.59,181.75L126.19,188.35M119.59,188.35L126.19,181.75"/><path d="M120.90,186.20L127.50,192.80M120.90,192.80L127.50,186.20"/><path d="M122.79,187.53L129.39,194.13M122.79,194.13L129.39,187.53"/><path d="M119.25,196.00L125.85,202.60M119.25,202.60L125.85,196.00"/><path d="M123.84,192.04L130.44,198.64M123.84,198.64L130.44,192.04"/><path d="M119.57,187.74L126.17,194.34M119.57,194.34L126.17,187.74"/><path d="M121.04,187.83L127.64,194.43M121.04,194.43L127.64,187.83"/><path d="M118.37,188.54L124.97,195.14M118.37,195.14L124.97,188.54"/><path d="M123.04,192.10L129.64,198.70M123.04,198.70L129.64,192.10"/><path d="M123.62,191.94L130.22,198.54M123.62,198.54L130.22,191.94"/><path d="M123.01,194.76L129.61,201.36M123.01,201.36L129.61,194.76"/><path d="M123.98,193.60L130.58,200.20M123.98,200.20L130.58,193.60"/><path d="M120.82,191.60L127.42,198.20M120.82,198.20L127.42,191.60"/><path d="M122.35,194.94L128.95,201.54M122.35,201.54L128.95,194.94"/><path d="M122.70,188.35L129.30,194.95M122.70,194.95L129.30,188.35"/><path d="M119.40,186.61L126.00,193.21M119.40,193.21L126.00,186.61"/><path d="M118.08,198.47L124.68,205.07M118.08,205.07L124.68,198.47"/><path d="M121.97,195.04L128.57,201.64M121.97,201.64L128.57,195.04"/><path d="M120.20,199.58L126.80,206.18M120.20,206.18L126.80,199.58"/><path d="M118.94,194.36L125.54,200.96M118.94,200.96L125.54,194.36"/><path d="M120.74,196.24L127.34,202.84M120.74,202.84L127.34,196.24"/><path d="M117.28,195.72L123.88,202.32M117.28,202.32L123.88,195.72"/><path d="M116.25,194.74L122.85,201.34M116.25,201.34L122.85,194.74"/><path d="M119.39,194.43L125.99,201.03M119.39,201.03L125.99,194.43"/><path d="M116.25,197.55L122.85,204.15M116.25,204.15L122.85,197.55"/><path d="M123.38,199.54L129.98,206.14M123.38,206.14L129.98,199.54"/><path d="M108.20,174.20L114.80,180.80M108.20,180.80L114.80,174.20"/><path d="M110.50,171.90L117.10,178.50M110.50,178.50L117.10,171.90"/><path d="M109.20,179.70L115.80,186.30M109.20,186.30L115.80,179.70"/><path d="M112.20,177.70L118.80,184.30M112.20,184.30L118.80,177.70"/><path d="M110.70,184.70L117.30,191.30M110.70,191.30L117.30,184.70"/><path d="M114.20,186.70L120.80,193.30M114.20,193.30L120.80,186.70"/><path d="M107.70,189.70L114.30,196.30M107.70,196.30L114.30,189.70"/><path d="M112.70,192.20L119.30,198.80M112.70,198.80L119.30,192.20"/></g>
<line x1="64.80" y1="203.10" x2="298.80" y2="140.15" stroke="#e03a30" stroke-width="1.5" stroke-dasharray="5.9 6.22" stroke-dashoffset="11.5"/>
<line x1="64.80" y1="214.98" x2="298.80" y2="26.58" stroke="#aa42bb" stroke-width="1.35" stroke-opacity="0.82" stroke-dasharray="5.9 6.22"/>
<line x1="33.50" y1="0.90" x2="33.50" y2="240.40" stroke="#262626" stroke-width="1.3" />
<line x1="32.90" y1="239.80" x2="331.00" y2="239.80" stroke="#444" stroke-width="1.35" />
<line x1="32.90" y1="1.40" x2="331.00" y2="1.40" stroke="#262626" stroke-width="1.15" />
<line x1="330.40" y1="0.90" x2="330.40" y2="240.40" stroke="#262626" stroke-width="1.2" />
<line x1="33.60" y1="239.80" x2="33.60" y2="244.40" stroke="#262626" stroke-width="1.15" />
<line x1="33.60" y1="1.40" x2="33.60" y2="6.00" stroke="#262626" stroke-width="1.15" />
<line x1="28.90" y1="239.80" x2="33.50" y2="239.80" stroke="#262626" stroke-width="1.15" />
<line x1="325.80" y1="239.80" x2="330.40" y2="239.80" stroke="#262626" stroke-width="1.15" />
<text transform="translate(33.60,255.90) scale(0.86,1)" font-size="11.8" text-anchor="middle" fill="#1a1a1a" stroke="#1a1a1a" stroke-width="0.15" >0.0</text>
<text transform="translate(25.80,243.70) scale(0.86,1)" font-size="11.8" text-anchor="end" fill="#1a1a1a" stroke="#1a1a1a" stroke-width="0.15" >0.0</text>
<line x1="49.20" y1="239.80" x2="49.20" y2="242.40" stroke="#262626" stroke-width="1.15" />
<line x1="49.20" y1="1.40" x2="49.20" y2="4.00" stroke="#262626" stroke-width="1.15" />
<line x1="30.90" y1="227.24" x2="33.50" y2="227.24" stroke="#262626" stroke-width="1.15" />
<line x1="327.80" y1="227.24" x2="330.40" y2="227.24" stroke="#262626" stroke-width="1.15" />
<line x1="64.80" y1="239.80" x2="64.80" y2="244.40" stroke="#262626" stroke-width="1.15" />
<line x1="64.80" y1="1.40" x2="64.80" y2="6.00" stroke="#262626" stroke-width="1.15" />
<line x1="28.90" y1="214.68" x2="33.50" y2="214.68" stroke="#262626" stroke-width="1.15" />
<line x1="325.80" y1="214.68" x2="330.40" y2="214.68" stroke="#262626" stroke-width="1.15" />
<text transform="translate(64.80,255.90) scale(0.86,1)" font-size="11.8" text-anchor="middle" fill="#1a1a1a" stroke="#1a1a1a" stroke-width="0.15" >0.1</text>
<text transform="translate(25.80,218.58) scale(0.86,1)" font-size="11.8" text-anchor="end" fill="#1a1a1a" stroke="#1a1a1a" stroke-width="0.15" >0.1</text>
<line x1="80.40" y1="239.80" x2="80.40" y2="242.40" stroke="#262626" stroke-width="1.15" />
<line x1="80.40" y1="1.40" x2="80.40" y2="4.00" stroke="#262626" stroke-width="1.15" />
<line x1="30.90" y1="202.12" x2="33.50" y2="202.12" stroke="#262626" stroke-width="1.15" />
<line x1="327.80" y1="202.12" x2="330.40" y2="202.12" stroke="#262626" stroke-width="1.15" />
<line x1="96.00" y1="239.80" x2="96.00" y2="244.40" stroke="#262626" stroke-width="1.15" />
<line x1="96.00" y1="1.40" x2="96.00" y2="6.00" stroke="#262626" stroke-width="1.15" />
<line x1="28.90" y1="189.56" x2="33.50" y2="189.56" stroke="#262626" stroke-width="1.15" />
<line x1="325.80" y1="189.56" x2="330.40" y2="189.56" stroke="#262626" stroke-width="1.15" />
<text transform="translate(96.00,255.90) scale(0.86,1)" font-size="11.8" text-anchor="middle" fill="#1a1a1a" stroke="#1a1a1a" stroke-width="0.15" >0.2</text>
<text transform="translate(25.80,193.46) scale(0.86,1)" font-size="11.8" text-anchor="end" fill="#1a1a1a" stroke="#1a1a1a" stroke-width="0.15" >0.2</text>
<line x1="111.60" y1="239.80" x2="111.60" y2="242.40" stroke="#262626" stroke-width="1.15" />
<line x1="111.60" y1="1.40" x2="111.60" y2="4.00" stroke="#262626" stroke-width="1.15" />
<line x1="30.90" y1="177.00" x2="33.50" y2="177.00" stroke="#262626" stroke-width="1.15" />
<line x1="327.80" y1="177.00" x2="330.40" y2="177.00" stroke="#262626" stroke-width="1.15" />
<line x1="127.20" y1="239.80" x2="127.20" y2="244.40" stroke="#262626" stroke-width="1.15" />
<line x1="127.20" y1="1.40" x2="127.20" y2="6.00" stroke="#262626" stroke-width="1.15" />
<line x1="28.90" y1="164.44" x2="33.50" y2="164.44" stroke="#262626" stroke-width="1.15" />
<line x1="325.80" y1="164.44" x2="330.40" y2="164.44" stroke="#262626" stroke-width="1.15" />
<text transform="translate(127.20,255.90) scale(0.86,1)" font-size="11.8" text-anchor="middle" fill="#1a1a1a" stroke="#1a1a1a" stroke-width="0.15" >0.3</text>
<text transform="translate(25.80,168.34) scale(0.86,1)" font-size="11.8" text-anchor="end" fill="#1a1a1a" stroke="#1a1a1a" stroke-width="0.15" >0.3</text>
<line x1="142.80" y1="239.80" x2="142.80" y2="242.40" stroke="#262626" stroke-width="1.15" />
<line x1="142.80" y1="1.40" x2="142.80" y2="4.00" stroke="#262626" stroke-width="1.15" />
<line x1="30.90" y1="151.88" x2="33.50" y2="151.88" stroke="#262626" stroke-width="1.15" />
<line x1="327.80" y1="151.88" x2="330.40" y2="151.88" stroke="#262626" stroke-width="1.15" />
<line x1="158.40" y1="239.80" x2="158.40" y2="244.40" stroke="#262626" stroke-width="1.15" />
<line x1="158.40" y1="1.40" x2="158.40" y2="6.00" stroke="#262626" stroke-width="1.15" />
<line x1="28.90" y1="139.32" x2="33.50" y2="139.32" stroke="#262626" stroke-width="1.15" />
<line x1="325.80" y1="139.32" x2="330.40" y2="139.32" stroke="#262626" stroke-width="1.15" />
<text transform="translate(158.40,255.90) scale(0.86,1)" font-size="11.8" text-anchor="middle" fill="#1a1a1a" stroke="#1a1a1a" stroke-width="0.15" >0.4</text>
<text transform="translate(25.80,143.22) scale(0.86,1)" font-size="11.8" text-anchor="end" fill="#1a1a1a" stroke="#1a1a1a" stroke-width="0.15" >0.4</text>
<line x1="174.00" y1="239.80" x2="174.00" y2="242.40" stroke="#262626" stroke-width="1.15" />
<line x1="174.00" y1="1.40" x2="174.00" y2="4.00" stroke="#262626" stroke-width="1.15" />
<line x1="30.90" y1="126.76" x2="33.50" y2="126.76" stroke="#262626" stroke-width="1.15" />
<line x1="327.80" y1="126.76" x2="330.40" y2="126.76" stroke="#262626" stroke-width="1.15" />
<line x1="189.60" y1="239.80" x2="189.60" y2="244.40" stroke="#262626" stroke-width="1.15" />
<line x1="189.60" y1="1.40" x2="189.60" y2="6.00" stroke="#262626" stroke-width="1.15" />
<line x1="28.90" y1="114.20" x2="33.50" y2="114.20" stroke="#262626" stroke-width="1.15" />
<line x1="325.80" y1="114.20" x2="330.40" y2="114.20" stroke="#262626" stroke-width="1.15" />
<text transform="translate(189.60,255.90) scale(0.86,1)" font-size="11.8" text-anchor="middle" fill="#1a1a1a" stroke="#1a1a1a" stroke-width="0.15" >0.5</text>
<text transform="translate(25.80,118.10) scale(0.86,1)" font-size="11.8" text-anchor="end" fill="#1a1a1a" stroke="#1a1a1a" stroke-width="0.15" >0.5</text>
<line x1="205.20" y1="239.80" x2="205.20" y2="242.40" stroke="#262626" stroke-width="1.15" />
<line x1="205.20" y1="1.40" x2="205.20" y2="4.00" stroke="#262626" stroke-width="1.15" />
<line x1="30.90" y1="101.64" x2="33.50" y2="101.64" stroke="#262626" stroke-width="1.15" />
<line x1="327.80" y1="101.64" x2="330.40" y2="101.64" stroke="#262626" stroke-width="1.15" />
<line x1="220.80" y1="239.80" x2="220.80" y2="244.40" stroke="#262626" stroke-width="1.15" />
<line x1="220.80" y1="1.40" x2="220.80" y2="6.00" stroke="#262626" stroke-width="1.15" />
<line x1="28.90" y1="89.08" x2="33.50" y2="89.08" stroke="#262626" stroke-width="1.15" />
<line x1="325.80" y1="89.08" x2="330.40" y2="89.08" stroke="#262626" stroke-width="1.15" />
<text transform="translate(220.80,255.90) scale(0.86,1)" font-size="11.8" text-anchor="middle" fill="#1a1a1a" stroke="#1a1a1a" stroke-width="0.15" >0.6</text>
<text transform="translate(25.80,92.98) scale(0.86,1)" font-size="11.8" text-anchor="end" fill="#1a1a1a" stroke="#1a1a1a" stroke-width="0.15" >0.6</text>
<line x1="236.40" y1="239.80" x2="236.40" y2="242.40" stroke="#262626" stroke-width="1.15" />
<line x1="236.40" y1="1.40" x2="236.40" y2="4.00" stroke="#262626" stroke-width="1.15" />
<line x1="30.90" y1="76.52" x2="33.50" y2="76.52" stroke="#262626" stroke-width="1.15" />
<line x1="327.80" y1="76.52" x2="330.40" y2="76.52" stroke="#262626" stroke-width="1.15" />
<line x1="252.00" y1="239.80" x2="252.00" y2="244.40" stroke="#262626" stroke-width="1.15" />
<line x1="252.00" y1="1.40" x2="252.00" y2="6.00" stroke="#262626" stroke-width="1.15" />
<line x1="28.90" y1="63.96" x2="33.50" y2="63.96" stroke="#262626" stroke-width="1.15" />
<line x1="325.80" y1="63.96" x2="330.40" y2="63.96" stroke="#262626" stroke-width="1.15" />
<text transform="translate(252.00,255.90) scale(0.86,1)" font-size="11.8" text-anchor="middle" fill="#1a1a1a" stroke="#1a1a1a" stroke-width="0.15" >0.7</text>
<text transform="translate(25.80,67.86) scale(0.86,1)" font-size="11.8" text-anchor="end" fill="#1a1a1a" stroke="#1a1a1a" stroke-width="0.15" >0.7</text>
<line x1="267.60" y1="239.80" x2="267.60" y2="242.40" stroke="#262626" stroke-width="1.15" />
<line x1="267.60" y1="1.40" x2="267.60" y2="4.00" stroke="#262626" stroke-width="1.15" />
<line x1="30.90" y1="51.40" x2="33.50" y2="51.40" stroke="#262626" stroke-width="1.15" />
<line x1="327.80" y1="51.40" x2="330.40" y2="51.40" stroke="#262626" stroke-width="1.15" />
<line x1="283.20" y1="239.80" x2="283.20" y2="244.40" stroke="#262626" stroke-width="1.15" />
<line x1="283.20" y1="1.40" x2="283.20" y2="6.00" stroke="#262626" stroke-width="1.15" />
<line x1="28.90" y1="38.84" x2="33.50" y2="38.84" stroke="#262626" stroke-width="1.15" />
<line x1="325.80" y1="38.84" x2="330.40" y2="38.84" stroke="#262626" stroke-width="1.15" />
<text transform="translate(283.20,255.90) scale(0.86,1)" font-size="11.8" text-anchor="middle" fill="#1a1a1a" stroke="#1a1a1a" stroke-width="0.15" >0.8</text>
<text transform="translate(25.80,42.74) scale(0.86,1)" font-size="11.8" text-anchor="end" fill="#1a1a1a" stroke="#1a1a1a" stroke-width="0.15" >0.8</text>
<line x1="298.80" y1="239.80" x2="298.80" y2="242.40" stroke="#262626" stroke-width="1.15" />
<line x1="298.80" y1="1.40" x2="298.80" y2="4.00" stroke="#262626" stroke-width="1.15" />
<line x1="30.90" y1="26.28" x2="33.50" y2="26.28" stroke="#262626" stroke-width="1.15" />
<line x1="327.80" y1="26.28" x2="330.40" y2="26.28" stroke="#262626" stroke-width="1.15" />
<line x1="314.40" y1="239.80" x2="314.40" y2="244.40" stroke="#262626" stroke-width="1.15" />
<line x1="314.40" y1="1.40" x2="314.40" y2="6.00" stroke="#262626" stroke-width="1.15" />
<line x1="28.90" y1="13.72" x2="33.50" y2="13.72" stroke="#262626" stroke-width="1.15" />
<line x1="325.80" y1="13.72" x2="330.40" y2="13.72" stroke="#262626" stroke-width="1.15" />
<text transform="translate(314.40,255.90) scale(0.86,1)" font-size="11.8" text-anchor="middle" fill="#1a1a1a" stroke="#1a1a1a" stroke-width="0.15" >0.9</text>
<text transform="translate(25.80,17.62) scale(0.86,1)" font-size="11.8" text-anchor="end" fill="#1a1a1a" stroke="#1a1a1a" stroke-width="0.15" >0.9</text>
<line x1="330.00" y1="239.80" x2="330.00" y2="242.40" stroke="#262626" stroke-width="1.15" />
<line x1="330.00" y1="1.40" x2="330.00" y2="4.00" stroke="#262626" stroke-width="1.15" />
<line x1="30.90" y1="1.16" x2="33.50" y2="1.16" stroke="#262626" stroke-width="1.15" />
<line x1="327.80" y1="1.16" x2="330.40" y2="1.16" stroke="#262626" stroke-width="1.15" />
<text transform="translate(182.10,267.00) scale(0.98,1)" font-size="12.6" text-anchor="middle" fill="#1a1a1a" stroke="#1a1a1a" stroke-width="0.15" >Actual results</text>
<text transform="translate(9.60,120.20) rotate(-90) scale(0.968,1)" font-size="12.6" text-anchor="middle" fill="#1a1a1a" stroke="#1a1a1a" stroke-width="0.15" >Prediction results</text>
<text x="300.4" y="227.6" font-size="19.6" font-weight="bold" fill="#161616" stroke="#161616" stroke-width="0.45">a)</text>
<rect x="43.4" y="9.3" width="119.3" height="43.7" fill="#fff" stroke="#999" stroke-width="0.9"/>
<path d="M53.5,13.8L60.5,20.8M53.5,20.8L60.5,13.8" stroke="#5259c4" stroke-width="1.05"/>
<line x1="44.10" y1="30.90" x2="70.10" y2="30.90" stroke="#e4553f" stroke-width="1.6" stroke-dasharray="5.9 6.2"/>
<line x1="44.10" y1="44.50" x2="70.10" y2="44.50" stroke="#b45cc8" stroke-width="1.5" stroke-dasharray="5.9 6.2"/>
<text transform="translate(73.00,21.20) scale(0.94,1)" font-size="12.0" text-anchor="start" fill="#1a1a1a" stroke="#1a1a1a" stroke-width="0.15" >Prediction/results</text>
<text transform="translate(73.00,35.10) scale(0.94,1)" font-size="12.0" text-anchor="start" fill="#1a1a1a" stroke="#1a1a1a" stroke-width="0.15" >Actual linear fitting</text>
<text transform="translate(73.00,48.80) scale(0.94,1)" font-size="12.0" text-anchor="start" fill="#1a1a1a" stroke="#1a1a1a" stroke-width="0.15" >Perfect Prediction</text>
<rect x="386.9" y="1.4" width="296.4" height="239.0" fill="#e5f3f3"/>
<line x1="386.90" y1="240.19" x2="683.30" y2="240.19" stroke="#fff" stroke-width="1" />
<line x1="386.90" y1="196.76" x2="683.30" y2="196.76" stroke="#fff" stroke-width="1" />
<line x1="386.90" y1="153.33" x2="683.30" y2="153.33" stroke="#fff" stroke-width="1" />
<line x1="386.90" y1="66.47" x2="683.30" y2="66.47" stroke="#fff" stroke-width="1" />
<line x1="386.90" y1="23.04" x2="683.30" y2="23.04" stroke="#fff" stroke-width="1" />
<line x1="386.90" y1="218.47" x2="683.30" y2="218.47" stroke="#fff" stroke-width="1" stroke-dasharray="4.6 4.7"/>
<line x1="386.90" y1="175.05" x2="683.30" y2="175.05" stroke="#fff" stroke-width="1" stroke-dasharray="4.6 4.7"/>
<line x1="386.90" y1="131.62" x2="683.30" y2="131.62" stroke="#fff" stroke-width="1" stroke-dasharray="4.6 4.7"/>
<line x1="386.90" y1="88.19" x2="683.30" y2="88.19" stroke="#fff" stroke-width="1" stroke-dasharray="4.6 4.7"/>
<line x1="386.90" y1="44.76" x2="683.30" y2="44.76" stroke="#fff" stroke-width="1" stroke-dasharray="4.6 4.7"/>
<line x1="416.80" y1="1.40" x2="416.80" y2="240.40" stroke="#fff" stroke-width="1" />
<line x1="446.43" y1="240.40" x2="446.43" y2="1.40" stroke="#fff" stroke-width="1" stroke-dasharray="4.6 4.7"/>
<line x1="476.05" y1="1.40" x2="476.05" y2="240.40" stroke="#fff" stroke-width="1" />
<line x1="505.68" y1="240.40" x2="505.68" y2="1.40" stroke="#fff" stroke-width="1" stroke-dasharray="4.6 4.7"/>
<line x1="535.30" y1="1.40" x2="535.30" y2="240.40" stroke="#fff" stroke-width="1" />
<line x1="564.92" y1="240.40" x2="564.92" y2="1.40" stroke="#fff" stroke-width="1" stroke-dasharray="4.6 4.7"/>
<line x1="594.55" y1="1.40" x2="594.55" y2="240.40" stroke="#fff" stroke-width="1" />
<line x1="624.17" y1="240.40" x2="624.17" y2="1.40" stroke="#fff" stroke-width="1" stroke-dasharray="4.6 4.7"/>
<line x1="653.80" y1="1.40" x2="653.80" y2="240.40" stroke="#fff" stroke-width="1" />
<defs><linearGradient id="g" x1="0" y1="0" x2="0" y2="1"><stop offset="0" stop-color="#3c8278"/><stop offset="0.55" stop-color="#55bb86"/><stop offset="1" stop-color="#5cc48c"/></linearGradient></defs>
<rect x="398.80" y="68.99" width="36.0" height="40.91" fill="url(#g)" stroke="#3a7f62" stroke-width="0.8"/>
<rect x="458.05" y="96.44" width="36.0" height="13.46" fill="url(#g)" stroke="#3a7f62" stroke-width="0.8"/>
<rect x="517.30" y="109.90" width="36.0" height="54.72" fill="url(#g)" stroke="#3a7f62" stroke-width="0.8"/>
<rect x="576.55" y="109.90" width="36.0" height="93.72" fill="url(#g)" stroke="#3a7f62" stroke-width="0.8"/>
<rect x="635.80" y="17.22" width="36.0" height="92.68" fill="url(#g)" stroke="#3a7f62" stroke-width="0.8"/>
<line x1="386.90" y1="109.90" x2="683.30" y2="109.90" stroke="#666" stroke-width="1.5" />
<line x1="386.90" y1="0.90" x2="386.90" y2="241.00" stroke="#555" stroke-width="1.6" />
<line x1="386.30" y1="240.40" x2="683.90" y2="240.40" stroke="#262626" stroke-width="1.3" />
<line x1="386.30" y1="1.40" x2="683.90" y2="1.40" stroke="#262626" stroke-width="1.15" />
<line x1="683.30" y1="0.90" x2="683.30" y2="241.00" stroke="#262626" stroke-width="1.2" />
<line x1="382.30" y1="240.19" x2="386.90" y2="240.19" stroke="#262626" stroke-width="1.15" />
<line x1="678.70" y1="240.19" x2="683.30" y2="240.19" stroke="#262626" stroke-width="1.15" />
<text transform="translate(378.60,243.79) scale(0.86,1)" font-size="11.8" text-anchor="end" fill="#1a1a1a" stroke="#1a1a1a" stroke-width="0.15" >-0.015</text>
<line x1="384.30" y1="218.47" x2="386.90" y2="218.47" stroke="#262626" stroke-width="1.15" />
<line x1="680.70" y1="218.47" x2="683.30" y2="218.47" stroke="#262626" stroke-width="1.15" />
<line x1="382.30" y1="196.76" x2="386.90" y2="196.76" stroke="#262626" stroke-width="1.15" />
<line x1="678.70" y1="196.76" x2="683.30" y2="196.76" stroke="#262626" stroke-width="1.15" />
<text transform="translate(378.60,200.36) scale(0.86,1)" font-size="11.8" text-anchor="end" fill="#1a1a1a" stroke="#1a1a1a" stroke-width="0.15" >-0.010</text>
<line x1="384.30" y1="175.05" x2="386.90" y2="175.05" stroke="#262626" stroke-width="1.15" />
<line x1="680.70" y1="175.05" x2="683.30" y2="175.05" stroke="#262626" stroke-width="1.15" />
<line x1="382.30" y1="153.33" x2="386.90" y2="153.33" stroke="#262626" stroke-width="1.15" />
<line x1="678.70" y1="153.33" x2="683.30" y2="153.33" stroke="#262626" stroke-width="1.15" />
<text transform="translate(378.60,156.93) scale(0.86,1)" font-size="11.8" text-anchor="end" fill="#1a1a1a" stroke="#1a1a1a" stroke-width="0.15" >-0.005</text>
<line x1="384.30" y1="131.62" x2="386.90" y2="131.62" stroke="#262626" stroke-width="1.15" />
<line x1="680.70" y1="131.62" x2="683.30" y2="131.62" stroke="#262626" stroke-width="1.15" />
<line x1="382.30" y1="109.90" x2="386.90" y2="109.90" stroke="#262626" stroke-width="1.15" />
<line x1="678.70" y1="109.90" x2="683.30" y2="109.90" stroke="#262626" stroke-width="1.15" />
<text transform="translate(378.60,113.50) scale(0.86,1)" font-size="11.8" text-anchor="end" fill="#1a1a1a" stroke="#1a1a1a" stroke-width="0.15" >0.000</text>
<line x1="384.30" y1="88.19" x2="386.90" y2="88.19" stroke="#262626" stroke-width="1.15" />
<line x1="680.70" y1="88.19" x2="683.30" y2="88.19" stroke="#262626" stroke-width="1.15" />
<line x1="382.30" y1="66.47" x2="386.90" y2="66.47" stroke="#262626" stroke-width="1.15" />
<line x1="678.70" y1="66.47" x2="683.30" y2="66.47" stroke="#262626" stroke-width="1.15" />
<text transform="translate(378.60,70.07) scale(0.86,1)" font-size="11.8" text-anchor="end" fill="#1a1a1a" stroke="#1a1a1a" stroke-width="0.15" >0.005</text>
<line x1="384.30" y1="44.76" x2="386.90" y2="44.76" stroke="#262626" stroke-width="1.15" />
<line x1="680.70" y1="44.76" x2="683.30" y2="44.76" stroke="#262626" stroke-width="1.15" />
<line x1="382.30" y1="23.04" x2="386.90" y2="23.04" stroke="#262626" stroke-width="1.15" />
<line x1="678.70" y1="23.04" x2="683.30" y2="23.04" stroke="#262626" stroke-width="1.15" />
<text transform="translate(378.60,26.64) scale(0.86,1)" font-size="11.8" text-anchor="end" fill="#1a1a1a" stroke="#1a1a1a" stroke-width="0.15" >0.010</text>
<line x1="384.30" y1="1.33" x2="386.90" y2="1.33" stroke="#262626" stroke-width="1.15" />
<line x1="680.70" y1="1.33" x2="683.30" y2="1.33" stroke="#262626" stroke-width="1.15" />
<line x1="416.80" y1="240.40" x2="416.80" y2="245.00" stroke="#262626" stroke-width="1.15" />
<line x1="416.80" y1="1.40" x2="416.80" y2="6.00" stroke="#262626" stroke-width="1.15" />
<text transform="translate(416.80,255.90) scale(0.86,1)" font-size="11.8" text-anchor="middle" fill="#1a1a1a" stroke="#1a1a1a" stroke-width="0.15" >Low</text>
<line x1="476.05" y1="240.40" x2="476.05" y2="245.00" stroke="#262626" stroke-width="1.15" />
<line x1="476.05" y1="1.40" x2="476.05" y2="6.00" stroke="#262626" stroke-width="1.15" />
<text transform="translate(476.05,255.90) scale(0.86,1)" font-size="11.8" text-anchor="middle" fill="#1a1a1a" stroke="#1a1a1a" stroke-width="0.15" >Moderate</text>
<line x1="535.30" y1="240.40" x2="535.30" y2="245.00" stroke="#262626" stroke-width="1.15" />
<line x1="535.30" y1="1.40" x2="535.30" y2="6.00" stroke="#262626" stroke-width="1.15" />
<text transform="translate(535.30,255.90) scale(0.86,1)" font-size="11.8" text-anchor="middle" fill="#1a1a1a" stroke="#1a1a1a" stroke-width="0.15" >High</text>
<line x1="594.55" y1="240.40" x2="594.55" y2="245.00" stroke="#262626" stroke-width="1.15" />
<line x1="594.55" y1="1.40" x2="594.55" y2="6.00" stroke="#262626" stroke-width="1.15" />
<text transform="translate(594.55,255.90) scale(0.86,1)" font-size="11.8" text-anchor="middle" fill="#1a1a1a" stroke="#1a1a1a" stroke-width="0.15" >Very High</text>
<line x1="653.80" y1="240.40" x2="653.80" y2="245.00" stroke="#262626" stroke-width="1.15" />
<line x1="653.80" y1="1.40" x2="653.80" y2="6.00" stroke="#262626" stroke-width="1.15" />
<text transform="translate(653.80,255.90) scale(0.86,1)" font-size="11.8" text-anchor="middle" fill="#1a1a1a" stroke="#1a1a1a" stroke-width="0.15" >Extreme</text>
<line x1="387.18" y1="240.40" x2="387.18" y2="243.00" stroke="#262626" stroke-width="1.15" />
<line x1="387.18" y1="1.40" x2="387.18" y2="4.00" stroke="#262626" stroke-width="1.15" />
<line x1="446.43" y1="240.40" x2="446.43" y2="243.00" stroke="#262626" stroke-width="1.15" />
<line x1="446.43" y1="1.40" x2="446.43" y2="4.00" stroke="#262626" stroke-width="1.15" />
<line x1="505.68" y1="240.40" x2="505.68" y2="243.00" stroke="#262626" stroke-width="1.15" />
<line x1="505.68" y1="1.40" x2="505.68" y2="4.00" stroke="#262626" stroke-width="1.15" />
<line x1="564.92" y1="240.40" x2="564.92" y2="243.00" stroke="#262626" stroke-width="1.15" />
<line x1="564.92" y1="1.40" x2="564.92" y2="4.00" stroke="#262626" stroke-width="1.15" />
<line x1="624.17" y1="240.40" x2="624.17" y2="243.00" stroke="#262626" stroke-width="1.15" />
<line x1="624.17" y1="1.40" x2="624.17" y2="4.00" stroke="#262626" stroke-width="1.15" />
<line x1="683.42" y1="240.40" x2="683.42" y2="243.00" stroke="#262626" stroke-width="1.15" />
<line x1="683.42" y1="1.40" x2="683.42" y2="4.00" stroke="#262626" stroke-width="1.15" />
<text transform="translate(535.00,272.90) scale(0.98,1)" font-size="12.6" text-anchor="middle" fill="#1a1a1a" stroke="#1a1a1a" stroke-width="0.15" >Prediction Level</text>
<text transform="translate(347.80,120.80) rotate(-90) scale(0.992,1)" font-size="12.6" text-anchor="middle" fill="#1a1a1a" stroke="#1a1a1a" stroke-width="0.15" >Average Residual</text>
<text x="656.8" y="228.1" font-size="19.6" font-weight="bold" fill="#161616" stroke="#161616" stroke-width="0.45">b)</text>
</svg></body></html>
